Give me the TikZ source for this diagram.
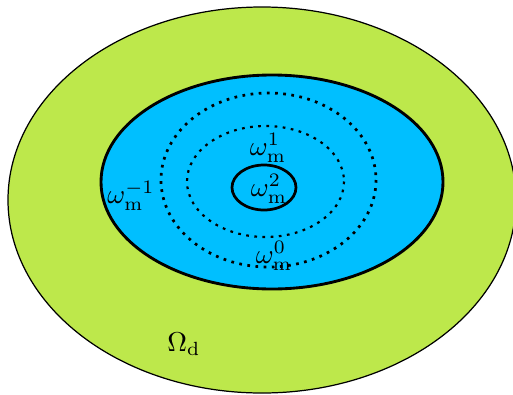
\documentclass[tikz,border=0pt]{standalone}
\usepackage{xcolor}
\usepackage{amsmath,amssymb}
\usetikzlibrary{positioning}

\definecolor{vertd}{RGB}{189,232,75}
\definecolor{bleum}{RGB}{0,191,255}

\begin{document}
\begin{tikzpicture}[
  x=0.0129cm, y=-0.0129cm,
  domd/.style={draw=black, line width=0.45pt, fill=vertd},
  domm/.style={draw=black, line width=1.05pt, fill=bleum},
  niveau/.style={draw=black, line width=1pt, dotted},
  coeur/.style={draw=black, line width=1pt},
  etiq/.style={inner sep=0pt, font=\normalsize},
]
\useasboundingbox (0,0) rectangle (513,394);

%% ── Domaine Omega_d ─────────────────────────────────────────────
\draw[domd] (262,200) ellipse [x radius=254, y radius=193];

%% ── Domaine omega_m ─────────────────────────────────────────────
\draw[domm] (272,182) ellipse [x radius=171, y radius=107];

%% ── Niveaux pointillés ──────────────────────────────────────────
\draw[niveau] (268.5,180) ellipse [x radius=107.5, y radius=87];
\draw[niveau, line width=0.8pt] (265.5,181.5) ellipse [x radius=78.5, y radius=55.5];

%% ── Noyau ───────────────────────────────────────────────────────
\draw[coeur] (264,187.5) ellipse [x radius=32, y radius=22.5];

%% ── Etiquettes ──────────────────────────────────────────────────
\node[etiq] (om2)  at (269,189) {$\omega_{\mathrm{m}}^{2}$};
\node[etiq] (om1)  at (268,148) {$\omega_{\mathrm{m}}^{1}$};
\node[etiq] (om0)  at (274,256) {$\omega_{\mathrm{m}}^{0}$};
\node[etiq] (omm1) at (131,196) {$\omega_{\mathrm{m}}^{-1}$};
\node[etiq] (Omd)  at (184,344) {$\Omega_{\mathrm{d}}$};

\end{tikzpicture}
\end{document}
